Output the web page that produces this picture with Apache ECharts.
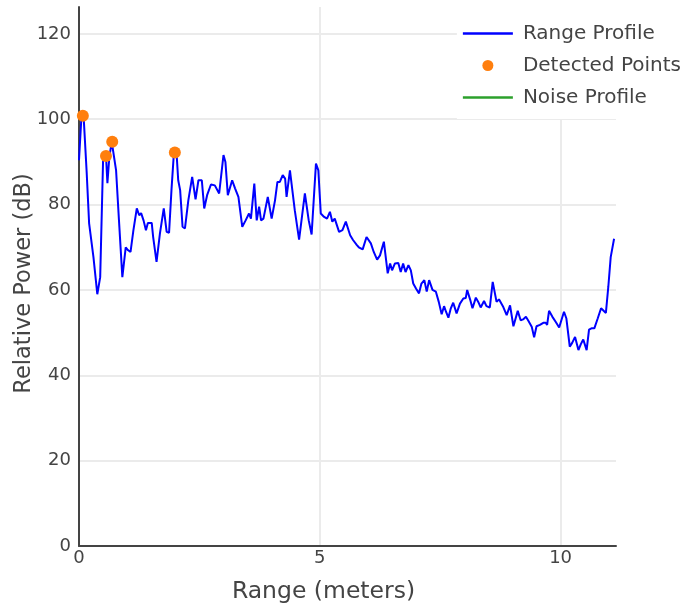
<!DOCTYPE html>
<html>
<head>
<meta charset="utf-8">
<script src="https://cdn.jsdelivr.net/npm/echarts@6/dist/echarts.min.js"></script>
<style>html,body{margin:0;padding:0;background:#fff;}#chart{width:683px;height:610px;}</style>
</head>
<body>
<div id="chart"></div>
<script>
const rangeX = [0,0.05,0.08,0.10,0.16,0.21,0.30,0.38,0.44,0.50,0.56,0.59,0.63,0.68,0.77,0.83,0.90,0.97,1.02,1.07,1.13,1.20,1.25,1.29,1.34,1.39,1.43,1.51,1.54,1.61,1.68,1.76,1.82,1.87,1.92,1.97,2.03,2.06,2.10,2.15,2.20,2.27,2.35,2.42,2.48,
2.55,2.60,2.66,2.74,2.82,2.91,3.00,3.04,3.09,3.13,3.18,3.24,3.31,3.39,3.46,3.53,3.57,3.64,3.69,3.74,3.78,3.83,3.92,4.00,4.07,4.12,4.17,4.23,4.28,4.31,4.38,4.48,4.57,4.69,4.77,4.83,4.92,4.97,5.02,5.09,5.15,5.21,5.26,5.31,5.40,
5.47,5.54,5.63,5.69,5.77,5.81,5.85,5.89,5.97,6.06,6.12,6.19,6.25,6.33,6.41,6.46,6.50,6.56,6.63,6.68,6.73,6.78,6.84,6.89,6.94,7.00,7.06,7.11,7.17,7.22,7.27,7.34,7.41,7.47,7.53,7.58,7.62,7.67,7.72,7.77,7.84,7.91,7.98,8.03,8.06,8.12,
8.17,8.24,8.29,8.34,8.41,8.46,8.53,8.59,8.62,8.67,8.72,8.76,8.81,8.88,8.95,9.02,9.11,9.17,9.22,9.28,9.33,9.40,9.45,9.50,9.57,9.64,9.69,9.72,9.76,9.83,9.90,9.97,10.07,10.12,10.19,10.24,10.30,10.33,10.37,10.42,10.47,10.50,10.54,10.59,10.64,10.70,10.77,10.84,10.88,10.94,10.99,11.04,11.11];
const rangePower = [90.4,100.5,100.9,99.8,87.4,75.6,67.7,59,63,90.4,91.6,85,91.2,94.7,88,76.3,63,70,69.3,68.9,74,79.1,77.5,78,76.3,74,75.7,75.7,72.4,66.6,73.2,79.1,73.6,73.4,83.4,92,91.2,85.7,83.4,74.8,74.4,81,86.5,81.2,85.7,
85.7,79.1,82.2,84.7,84.5,82.6,91.6,90,82.2,82.6,85.7,83.8,81.8,74.8,76.3,77.9,76.7,84.9,76.3,79.5,76.3,76.7,81.8,76.7,81,85.3,85.3,86.9,86.1,81.8,88,78.7,71.8,82.6,76.3,73,89.6,88,77.9,77.1,76.7,78.3,76,76.7,73.6,
74,76,72.8,71.7,70.5,70,70.3,69.5,72.4,70.9,68.9,67.1,68.1,71.3,63.9,66.2,64.6,66.2,66.3,64.2,66.2,64.2,65.8,64.6,61.5,60.3,59.2,61.5,62.3,59.6,62.3,60,59.6,57.2,54.3,56.2,54.9,53.5,55.7,57,54.5,56.8,58,58.1,60,57.8,
55.7,58.2,57.2,55.9,57.4,56.2,55.9,61.9,62.1,57.2,57.8,58.1,56,54.1,56.4,51.5,55.1,52.9,53.1,53.7,52.8,51.4,48.9,51.5,51.8,52.3,52.3,51.8,55.1,53.7,52.5,51.2,54.9,53.3,46.7,47.6,49,48.6,45.9,47.3,48.4,48.6,45.9,50.7,51,51,53.3,55.7,55.4,54.6,60.7,67.7,72];
const detectedX = [0.08, 0.56, 0.69, 1.99];
const detectedY = [100.8, 91.4, 94.7, 92.2];
const noiseX = [];
const noiseY = [];
const seriesNames = ['Range Profile', 'Detected Points', 'Noise Profile'];
const yTicks = [0, 20, 40, 60, 80, 100, 120];
const xTicks = [0, 5, 10];

const FONT = 'DejaVu Sans';
const LINE_ICON = 'path://M0,0L50,0L50,2.4L0,2.4Z';
const chart = echarts.init(document.getElementById('chart'), null, {renderer: 'canvas'});
const pair = (xs, ys) => xs.map((x, i) => [x, ys[i]]);
chart.setOption({
  animation: false,
  backgroundColor: '#fff',
  textStyle: {fontFamily: FONT},
  grid: {left: 79, right: 67, top: 7, bottom: 64, containLabel: false, outerBoundsMode: 'none'},
  legend: {
    orient: 'vertical', right: 0, top: 0,
    backgroundColor: '#fff',
    padding: [23, 2, 11, 6],
    itemWidth: 50, itemHeight: 11, itemGap: 11,
    symbolKeepAspect: true,
    textStyle: {fontFamily: FONT, fontSize: 20, color: '#444', lineHeight: 21, padding: [0, 0, 0, 5]},
    data: [
      {name: seriesNames[0], icon: LINE_ICON},
      {name: seriesNames[1], icon: 'circle'},
      {name: seriesNames[2], icon: LINE_ICON}
    ]
  },
  xAxis: {
    type: 'value', min: 0, max: 11.15, interval: 5,
    name: 'Range (meters)', nameLocation: 'middle', nameGap: 34, nameMoveOverlap: false,
    nameTextStyle: {fontFamily: FONT, fontSize: 23.5, color: '#444', padding: [0, 48, 0, 0]},
    axisLine: {show: true, onZero: false, lineStyle: {color: '#444', width: 2}},
    axisTick: {show: false},
    axisLabel: {fontFamily: FONT, fontSize: 18, color: '#444', margin: 3, showMaxLabel: false,
      formatter: v => xTicks.includes(v) ? String(v) : ''},
    splitLine: {show: true, showMaxLine: false, lineStyle: {color: '#ebebeb', width: 2}}
  },
  yAxis: {
    type: 'value', min: 0, max: 126.3, interval: 20,
    name: 'Relative Power (dB)', nameLocation: 'middle', nameGap: 43, nameRotate: 90, nameMoveOverlap: false,
    nameTextStyle: {fontFamily: FONT, fontSize: 22.5, color: '#444', padding: [0, 14, 0, 0]},
    axisLine: {show: true, onZero: false, lineStyle: {color: '#444', width: 2}},
    axisTick: {show: false},
    axisLabel: {fontFamily: FONT, fontSize: 18, color: '#444', margin: 8, showMaxLabel: false,
      formatter: v => yTicks.includes(v) ? String(v) : ''},
    splitLine: {show: true, showMaxLine: false, lineStyle: {color: '#ebebeb', width: 2}}
  },
  series: [
    {
      name: seriesNames[0], type: 'line', data: pair(rangeX, rangePower),
      symbol: 'none', showSymbol: false, color: '#0000ff',
      lineStyle: {color: '#0000ff', width: 2}, z: 2
    },
    {
      name: seriesNames[1], type: 'scatter', data: pair(detectedX, detectedY),
      symbol: 'circle', symbolSize: 12, color: '#ff7f0e',
      itemStyle: {color: '#ff7f0e', opacity: 1}, z: 3
    },
    {
      name: seriesNames[2], type: 'line', data: pair(noiseX, noiseY),
      symbol: 'none', showSymbol: false, color: '#2ca02c',
      lineStyle: {color: '#2ca02c', width: 2}, z: 2
    }
  ]
});
</script>
</body>
</html>
